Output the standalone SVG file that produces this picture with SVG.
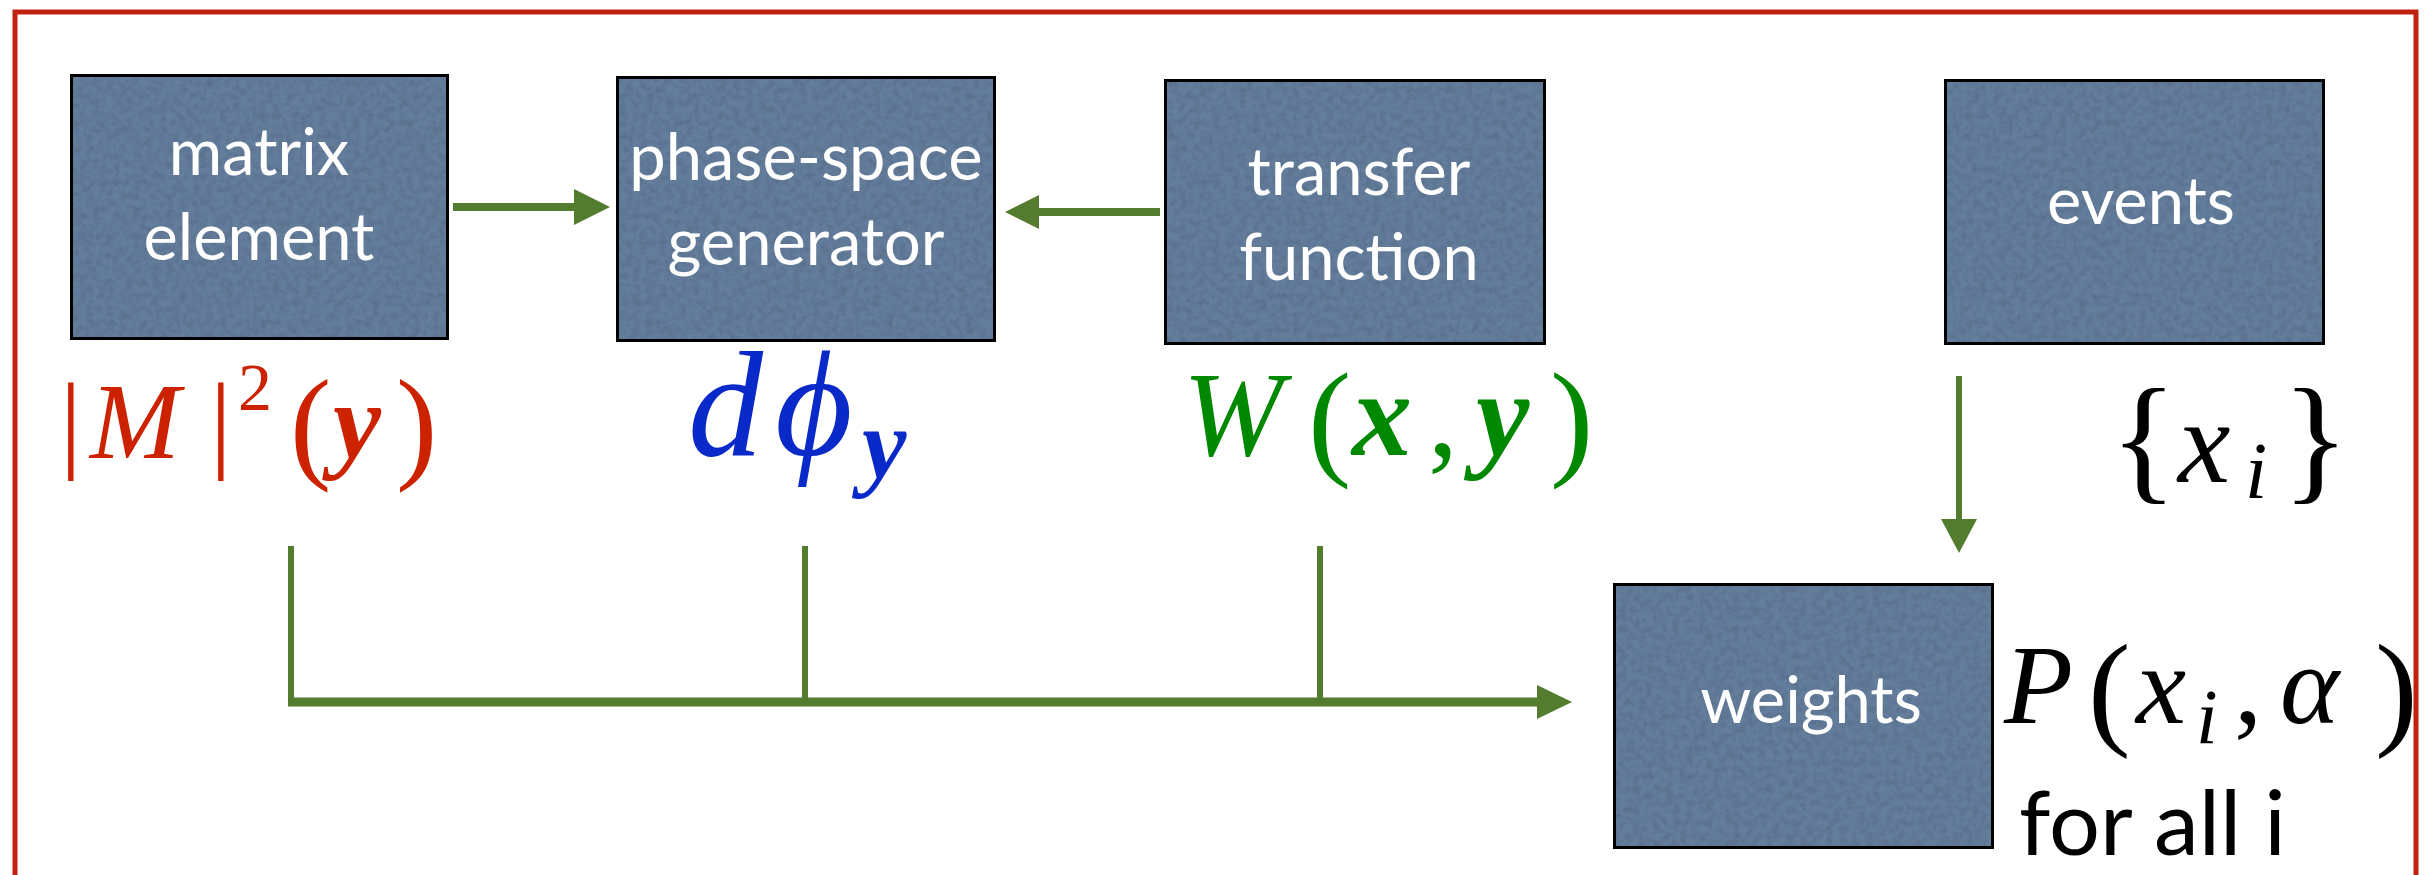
<svg xmlns="http://www.w3.org/2000/svg" width="2435" height="875" viewBox="0 0 2435 875">
<defs>
<filter id="tex" x="0" y="0" width="100%" height="100%">
<feTurbulence type="fractalNoise" baseFrequency="0.15" numOctaves="3" seed="5" result="noise"/>
<feColorMatrix in="noise" type="matrix" values="0 0 0 0 0  0 0 0 0 0  0 0 0 0 0  0.45 0 0 0 -0.18" result="shade"/>
<feComposite in="shade" in2="SourceGraphic" operator="in" result="s2"/>
<feMerge><feMergeNode in="SourceGraphic"/><feMergeNode in="s2"/></feMerge>
</filter>
<style>
.box{fill:#647d9b;stroke:#000;stroke-width:6;filter:url(#tex)}
.lbl{font-family:Lato,"Open Sans","DejaVu Sans",sans-serif;font-size:65px;fill:#fff;text-anchor:middle}
.math{font-family:"Liberation Serif","DejaVu Serif",serif;font-style:italic}
.up{font-style:normal}
.bold{font-weight:bold}
.ln{stroke:#537c2e;fill:none}
.hd{fill:#537c2e}
</style>
</defs>
<rect x="15" y="12" width="2401" height="900" fill="none" stroke="#c0220f" stroke-width="5"/>

<g id="connectors">
<line class="ln" x1="453" y1="207" x2="578" y2="207" stroke-width="8"/>
<polygon class="hd" points="574,189 610,207 574,225"/>
<line class="ln" x1="1160" y1="212" x2="1035" y2="212" stroke-width="8"/>
<polygon class="hd" points="1039,195 1005,212 1039,229"/>
<line class="ln" x1="1959" y1="376" x2="1959" y2="522" stroke-width="6"/>
<polygon class="hd" points="1941,519 1959,553 1977,519"/>
<line class="ln" x1="291" y1="546" x2="291" y2="702" stroke-width="6"/>
<line class="ln" x1="805" y1="546" x2="805" y2="702" stroke-width="6"/>
<line class="ln" x1="1320" y1="546" x2="1320" y2="702" stroke-width="6"/>
<line class="ln" x1="288" y1="702" x2="1540" y2="702" stroke-width="9"/>
<polygon class="hd" points="1537,685 1572,702 1537,719"/>
</g>

<g id="matrix-element">
<rect class="box" x="70" y="74" width="379" height="266"/>
<text class="lbl" x="259" y="175">matrix</text>
<text class="lbl" x="259" y="260">element</text>
</g>

<g id="phase-space-generator">
<rect class="box" x="616" y="76" width="380" height="266"/>
<text class="lbl" x="806" y="180">phase-space</text>
<text class="lbl" x="806" y="265">generator</text>
</g>

<g id="transfer-function">
<rect class="box" x="1164" y="79" width="382" height="266"/>
<text class="lbl" x="1359" y="195">transfer</text>
<text class="lbl" x="1359" y="280">function</text>
</g>

<g id="events">
<rect class="box" x="1944" y="79" width="381" height="266"/>
<text class="lbl" x="2141" y="224">events</text>
</g>

<g id="weights">
<rect class="box" x="1613" y="583" width="381" height="266"/>
<text class="lbl" x="1811" y="723">weights</text>
</g>

<g id="labels">
<text class="math" fill="#cc2200" font-size="108" y="458"><tspan class="up" x="60">|</tspan><tspan x="90">M</tspan><tspan class="up" x="210">|</tspan><tspan class="up" x="238" y="410" font-size="68">2</tspan><tspan class="up" x="290" y="466" font-size="124">(</tspan><tspan class="bold" x="333" y="458">y</tspan><tspan class="up" x="396" y="466" font-size="124">)</tspan></text>
<text class="math" fill="#0a29c9" font-size="150" y="455"><tspan x="688">d</tspan><tspan x="775">ϕ</tspan><tspan class="bold" x="862" y="478" font-size="100">y</tspan></text>
<text class="math" fill="#008800" font-size="120" y="455"><tspan x="1183">W</tspan><tspan class="up" x="1308" y="462" font-size="130">(</tspan><tspan class="bold" x="1352" y="455">x</tspan><tspan class="up" x="1428">,</tspan><tspan class="bold" x="1476">y</tspan><tspan class="up" x="1550" y="462" font-size="130">)</tspan></text>
<text class="math" fill="#000" font-size="118" y="482"><tspan class="up" x="2110" y="485" font-size="140">{</tspan><tspan x="2178" y="482">x</tspan><tspan x="2245" y="498" font-size="80">i</tspan><tspan class="up" x="2282" y="485" font-size="140">}</tspan></text>
<text class="math" fill="#000" font-size="113" y="723"><tspan x="2004">P</tspan><tspan class="up" x="2088" y="732" font-size="128">(</tspan><tspan x="2136" y="723">x</tspan><tspan x="2196" y="743" font-size="78">i</tspan><tspan class="up" x="2234" y="723">,</tspan><tspan x="2280">α</tspan><tspan class="up" x="2375" y="732" font-size="128">)</tspan></text>
<text x="2019" y="855" font-family="Lato,'Open Sans',sans-serif" font-size="90" fill="#000">for all i</text>
</g>
</svg>
